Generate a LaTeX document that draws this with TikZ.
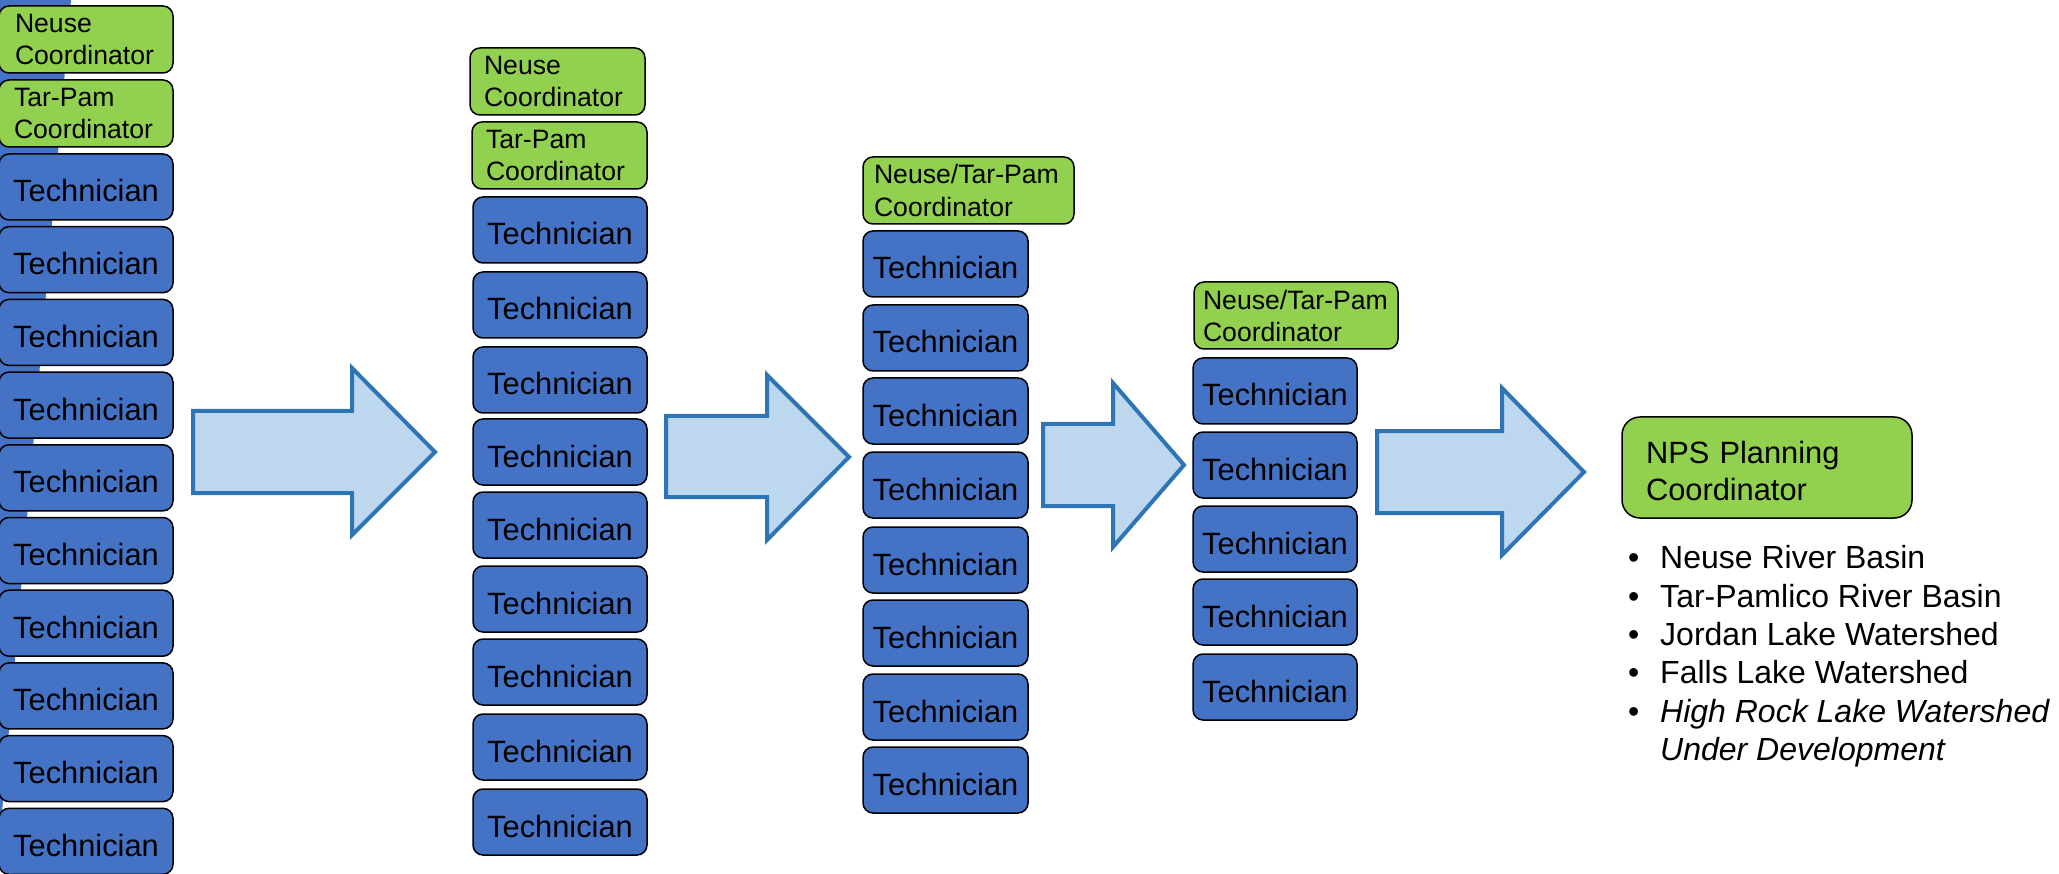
\documentclass[tikz,border=0pt]{standalone}
\usepackage{fontspec}
\setmainfont{Liberation Sans}
\definecolor{boxgreen}{HTML}{92D050}
\definecolor{boxblue}{HTML}{4472C4}
\definecolor{arrfill}{HTML}{BDD7EE}
\definecolor{arrline}{HTML}{2E75B6}
\tikzset{
  basebox/.style={draw=black, line width=1.5pt, rounded corners=10pt, anchor=north west, inner sep=0pt, outer sep=0pt},
  tech/.style={basebox, fill=boxblue, font=\fontsize{30.8}{36}\selectfont, minimum height=66pt, text height=30pt, text depth=0pt},
  coord/.style={basebox, fill=boxgreen, font=\fontsize{26.6}{32}\selectfont, align=left, minimum height=67pt},
  bigarrow/.style={fill=arrfill, draw=arrline, line width=4pt, line join=miter},
  listtxt/.style={anchor=base west, inner sep=0pt, font=\fontsize{32}{38}\selectfont},
  listit/.style={listtxt, font=\fontsize{32}{38}\selectfont\itshape},
}
\begin{document}
\begin{tikzpicture}[x=1pt,y=-1pt]
\useasboundingbox (0,0) rectangle (2059,874);
% partially hidden blue strip at left edge
\fill[boxblue] (0,0) -- (71,0) -- (0,836) -- cycle;

% column 1
\node[coord, inner xsep=16pt, text width=142pt] (c1n) at (-1,6) {Neuse\\Coordinator};
\node[coord, inner xsep=15pt, text width=144pt] (c1t) at (-1,80) {Tar-Pam\\Coordinator};
\foreach \k in {0,...,9}
  \node[tech, minimum width=174pt] (a\k) at (-1,{154+72.7*\k}) {Technician};

% column 2
\node[coord, inner xsep=14pt, text width=147pt] (c2n) at (470,48) {Neuse\\Coordinator};
\node[coord, inner xsep=14pt, text width=147pt] (c2t) at (472,122) {Tar-Pam\\Coordinator};
\foreach \y [count=\k] in {197,272,347,419,492,566,639,714,789}
  \node[tech, minimum width=174pt] (b\k) at (473,\y) {Technician};

% column 3
\node[coord, inner xsep=11pt, text width=189pt] (c3c) at (863,157) {Neuse/Tar-Pam\\[1pt]Coordinator};
\foreach \y [count=\k] in {231,305,378,452,527,600,674,747}
  \node[tech, minimum width=165pt] (d\k) at (863,\y) {Technician};

% column 4
\node[coord, inner xsep=9pt, text width=186pt] (c4c) at (1194,282) {Neuse/Tar-Pam\\Coordinator};
\foreach \y [count=\k] in {358,432,506,579,654}
  \node[tech, minimum width=164pt] (e\k) at (1193,\y) {Technician};

% arrows
\draw[bigarrow] (193,411) -- (352,411) -- (352,368) -- (435,452) -- (352,535) -- (352,493) -- (193,493) -- cycle;
\draw[bigarrow] (666,416) -- (767,416) -- (767,375) -- (849,457) -- (767,540) -- (767,497) -- (666,497) -- cycle;
\draw[bigarrow] (1043,424) -- (1113,424) -- (1113,383) -- (1184,465) -- (1113,547) -- (1113,506) -- (1043,506) -- cycle;
\draw[bigarrow] (1377,431) -- (1502,431) -- (1502,388) -- (1584,472) -- (1502,555) -- (1502,513) -- (1377,513) -- cycle;

% final box
\node[coord, font=\fontsize{30.8}{37}\selectfont, inner xsep=24pt, text width=242pt, minimum height=101pt, rounded corners=18pt] (nps) at (1622,417) {\rule{0pt}{30pt}NPS Planning\\Coordinator};

% bullet list
\node[listtxt] (p1) at (1628,568) {•};
\node[listtxt] (l1) at (1660,568) {Neuse River Basin};
\node[listtxt] (p2) at (1628,607) {•};
\node[listtxt] (l2) at (1660,607) {Tar-Pamlico River Basin};
\node[listtxt] (p3) at (1628,645) {•};
\node[listtxt] (l3) at (1660,645) {Jordan Lake Watershed};
\node[listtxt] (p4) at (1628,683) {•};
\node[listtxt] (l4) at (1660,683) {Falls Lake Watershed};
\node[listtxt] (p5) at (1628,722) {•};
\node[listit] (l5) at (1660,722) {High Rock Lake Watershed};
\node[listit] (l6) at (1660,760) {Under Development};
\end{tikzpicture}
\end{document}
